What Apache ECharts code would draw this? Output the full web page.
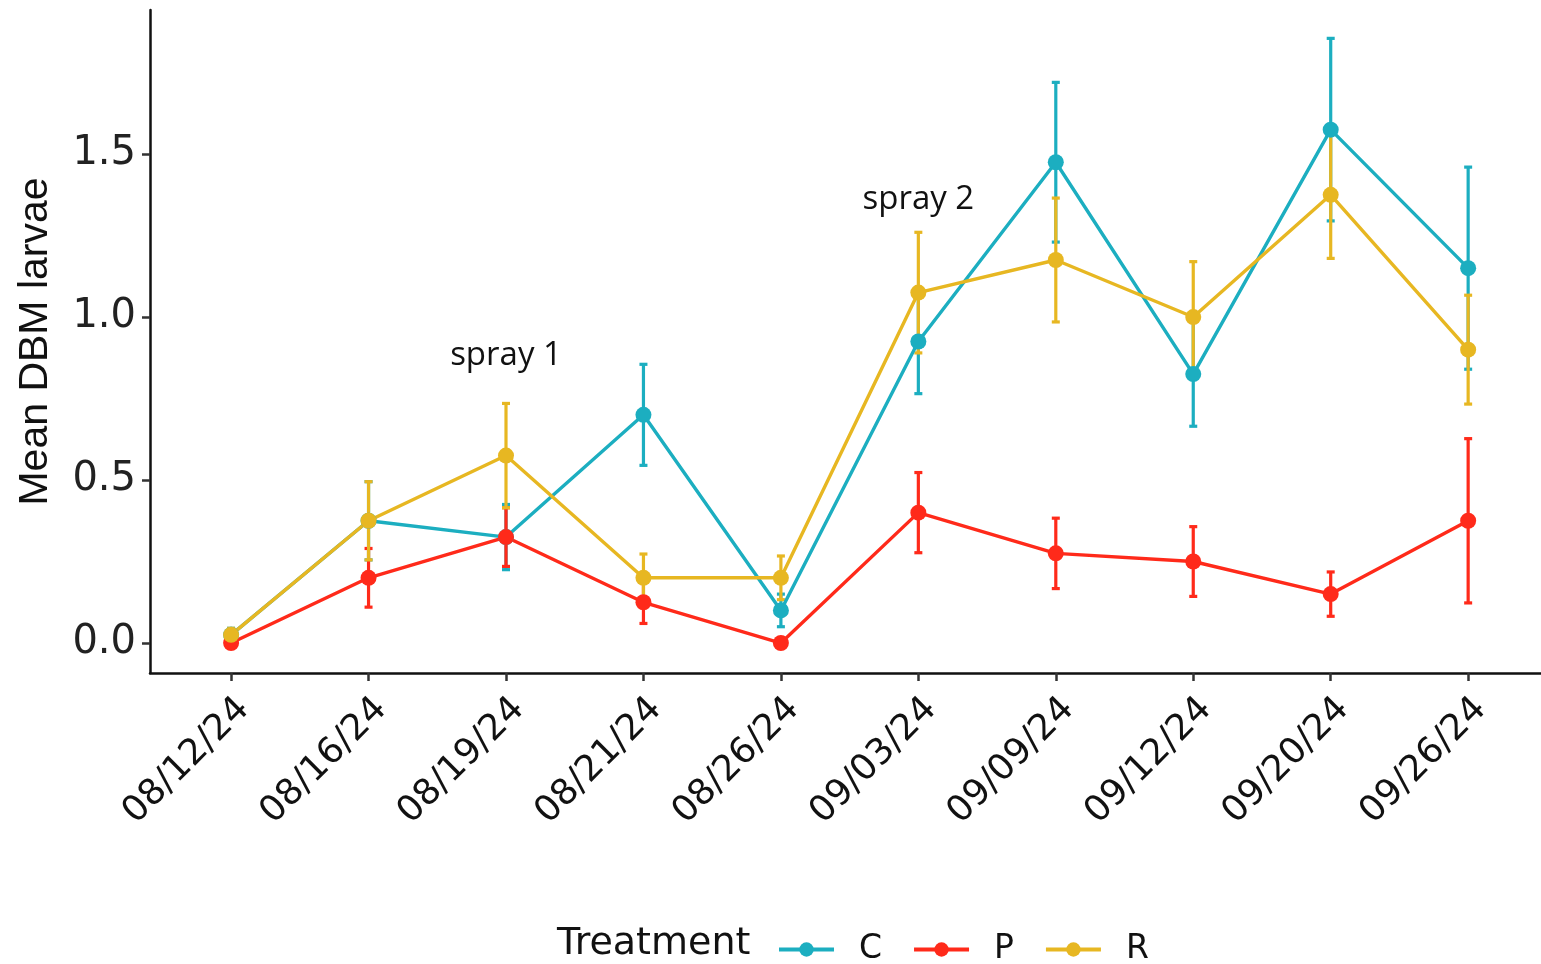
<!DOCTYPE html>
<html>
<head>
<meta charset="utf-8">
<script src="https://cdn.jsdelivr.net/npm/echarts@6/dist/echarts.min.js"></script>
<style>html,body{margin:0;padding:0;background:#fff}#c{width:1541px;height:964px}</style>
</head>
<body>
<div id="c"></div>
<script>
const categories = ['08/12/24','08/16/24','08/19/24','08/21/24','08/26/24','09/03/24','09/09/24','09/12/24','09/20/24','09/26/24'];
const meanC = [0.025, 0.375, 0.325, 0.70, 0.10, 0.925, 1.475, 0.825, 1.575, 1.15];
const seC   = [0.02, 0.12, 0.10, 0.155, 0.05, 0.16, 0.245, 0.16, 0.28, 0.31];
const meanP = [0, 0.20, 0.325, 0.125, 0, 0.40, 0.275, 0.25, 0.15, 0.375];
const seP   = [0, 0.09, 0.09, 0.065, 0, 0.123, 0.108, 0.107, 0.068, 0.252];
const meanR = [0.025, 0.375, 0.575, 0.20, 0.20, 1.075, 1.175, 1.00, 1.375, 0.90];
const seR   = [0.02, 0.12, 0.16, 0.073, 0.067, 0.185, 0.19, 0.17, 0.195, 0.167];
const yTicks = [0, 0.5, 1.0, 1.5];
const annotations = [{x: 2, y: 0.883, text: 'spray 1'}, {x: 5, y: 1.36, text: 'spray 2'}];

const colors = {C: '#1CAEC0', P: '#FF2A1A', R: '#E7B722'};
const groups = [
  {name: 'C', mean: meanC, se: seC},
  {name: 'P', mean: meanP, se: seP},
  {name: 'R', mean: meanR, se: seR}
];

const chart = echarts.init(document.getElementById('c'));
const series = [];
groups.forEach(g => {
  const errData = g.mean.map((m, i) => [i, m - g.se[i], m + g.se[i]]).filter(d => d[2] - d[1] > 0);
  series.push({
    type: 'custom',
    name: g.name + '_err',
    z: 2,
    silent: true,
    renderItem: function (params, api) {
      const x = api.value(0);
      const lo = api.coord([x, api.value(1)]);
      const hi = api.coord([x, api.value(2)]);
      const w = 4;
      const st = {stroke: colors[g.name], lineWidth: 3.2};
      return {type: 'group', children: [
        {type: 'line', shape: {x1: lo[0], y1: lo[1], x2: hi[0], y2: hi[1]}, style: st},
        {type: 'line', shape: {x1: lo[0]-w, y1: lo[1], x2: lo[0]+w, y2: lo[1]}, style: st},
        {type: 'line', shape: {x1: hi[0]-w, y1: hi[1], x2: hi[0]+w, y2: hi[1]}, style: st}
      ]};
    },
    encode: {x: 0, y: [1, 2]},
    data: errData
  });
});
groups.forEach((g, gi) => {
  const s = {
    type: 'line',
    name: g.name,
    z: 3,
    data: g.mean.map((m, i) => [i, m]),
    symbol: 'circle',
    symbolSize: 16,
    showSymbol: true,
    lineStyle: {color: colors[g.name], width: 3.4},
    itemStyle: {color: colors[g.name]},
    emphasis: {disabled: true}
  };
  if (gi === 0) {
    s.markPoint = {
      symbol: 'circle', symbolSize: 0, silent: true,
      label: {show: true, position: 'inside', color: '#111', fontFamily: 'Open Sans', fontSize: 33,
        formatter: p => p.name},
      data: annotations.map(a => ({name: a.text, coord: [a.x, a.y]}))
    };
  }
  series.push(s);
});

chart.setOption({
  animation: false,
  backgroundColor: '#fff',
  grid: {left: 150, right: 0, top: 10, bottom: 291, containLabel: false},
  xAxis: {
    type: 'value', min: -0.59, max: 9.53,
    axisLine: {show: true, onZero: false, lineStyle: {color: '#111', width: 2.5}},
    axisTick: {show: true, length: 8, lineStyle: {color: '#333', width: 2.5}, customValues: categories.map((c, i) => i)},
    axisLabel: {show: true, rotate: 45, margin: 18, align: 'right', verticalAlign: 'top',
      fontFamily: 'DejaVu Sans', fontSize: 36, color: '#111',
      customValues: categories.map((c, i) => i),
      formatter: v => categories[Math.round(v)] || ''},
    splitLine: {show: false}
  },
  yAxis: {
    type: 'value', min: -0.092, max: 1.942,
    name: 'Mean DBM larvae', nameLocation: 'middle', nameGap: 94,
    nameTextStyle: {fontFamily: 'Liberation Sans', fontSize: 41, color: '#111'},
    axisLine: {show: true, onZero: false, lineStyle: {color: '#111', width: 2.5}},
    axisTick: {show: true, length: 8, lineStyle: {color: '#333', width: 2.5}, customValues: yTicks},
    axisLabel: {show: true, margin: 14, fontFamily: 'DejaVu Sans', fontSize: 40, color: '#222',
      customValues: yTicks, formatter: v => v.toFixed(1)},
    splitLine: {show: false}
  },
  legend: {
    data: ['C', 'P', 'R'],
    left: 772, top: 928,
    itemWidth: 55, itemHeight: 18, itemGap: 30,
    lineStyle: {width: 4},
    textStyle: {fontFamily: 'DejaVu Sans', fontSize: 33, color: '#111', padding: [0, 0, 0, 20]},
    selectedMode: false
  },
  graphic: [{
    type: 'text', left: 557, top: 925,
    style: {text: 'Treatment', fontFamily: 'DejaVu Sans', fontSize: 38, fill: '#111'}
  }],
  series: series
});
</script>
</body>
</html>
